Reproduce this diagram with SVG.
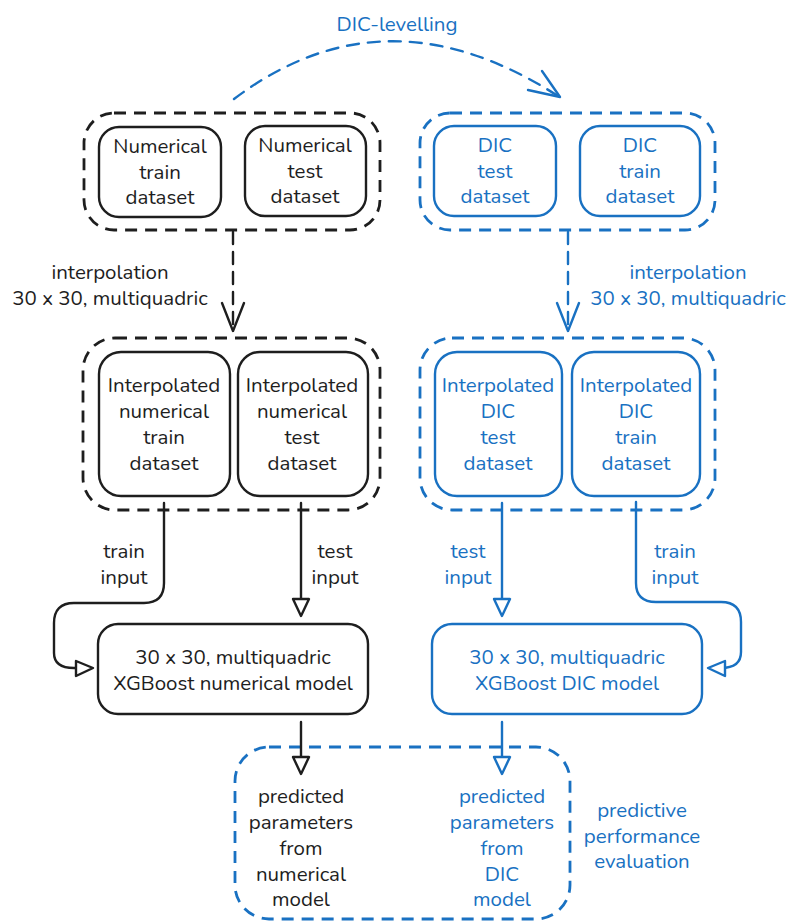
<svg xmlns="http://www.w3.org/2000/svg" width="789" height="923" viewBox="0 0 789 923">
<defs>
<style>
text{font-family:"Nunito","Open Sans","Noto Sans",sans-serif;font-size:20.5px;text-anchor:middle;}
.k{fill:#1e1e1e;}
.b{fill:#1971c2;}
.box{fill:none;stroke-width:2.4;}
.dash{fill:none;stroke-width:2.8;stroke-dasharray:12 8;}
.ks{stroke:#1e1e1e;}
.bs{stroke:#1971c2;}
.ln{fill:none;stroke-width:2.4;stroke-linecap:round;stroke-linejoin:round;}
.tri{fill:#fff;stroke-width:2.4;stroke-linejoin:round;}
</style>
</defs>
<rect width="789" height="923" fill="#fff"/>

<g id="grp-num">
<rect class="dash ks" x="84" y="113" width="296" height="117" rx="30"/>
</g>
<g id="num-train">
<rect class="box ks" x="99" y="127" width="122" height="90" rx="20"/>
<text class="k"><tspan x="160" y="153">Numerical</tspan><tspan x="160" y="179">train</tspan><tspan x="160" y="204">dataset</tspan></text>
</g>
<g id="num-test">
<rect class="box ks" x="245" y="126" width="121" height="90" rx="20"/>
<text class="k"><tspan x="305" y="152">Numerical</tspan><tspan x="305" y="178">test</tspan><tspan x="305" y="203">dataset</tspan></text>
</g>

<g id="grp-dic">
<rect class="dash bs" x="420" y="113" width="295" height="117" rx="30"/>
</g>
<g id="dic-test">
<rect class="box bs" x="434" y="126" width="122" height="90" rx="20"/>
<text class="b"><tspan x="495" y="152">DIC</tspan><tspan x="495" y="178">test</tspan><tspan x="495" y="203">dataset</tspan></text>
</g>
<g id="dic-train">
<rect class="box bs" x="580" y="126" width="120" height="90" rx="20"/>
<text class="b"><tspan x="640" y="152">DIC</tspan><tspan x="640" y="178">train</tspan><tspan x="640" y="203">dataset</tspan></text>
</g>

<g id="grp-inum">
<rect class="dash ks" x="83" y="338" width="297" height="172" rx="32"/>
</g>
<g id="inum-train">
<rect class="box ks" x="99" y="352" width="131" height="144" rx="22"/>
<text class="k"><tspan x="164" y="392">Interpolated</tspan><tspan x="164" y="418">numerical</tspan><tspan x="164" y="444">train</tspan><tspan x="164" y="470">dataset</tspan></text>
</g>
<g id="inum-test">
<rect class="box ks" x="238" y="352" width="130" height="144" rx="22"/>
<text class="k"><tspan x="302" y="392">Interpolated</tspan><tspan x="302" y="418">numerical</tspan><tspan x="302" y="444">test</tspan><tspan x="302" y="470">dataset</tspan></text>
</g>

<g id="grp-idic">
<rect class="dash bs" x="420" y="338" width="295" height="172" rx="32"/>
</g>
<g id="idic-test">
<rect class="box bs" x="435" y="352" width="127" height="144" rx="22"/>
<text class="b"><tspan x="498" y="392">Interpolated</tspan><tspan x="498" y="418">DIC</tspan><tspan x="498" y="444">test</tspan><tspan x="498" y="470">dataset</tspan></text>
</g>
<g id="idic-train">
<rect class="box bs" x="572" y="352" width="128" height="144" rx="22"/>
<text class="b"><tspan x="636" y="392">Interpolated</tspan><tspan x="636" y="418">DIC</tspan><tspan x="636" y="444">train</tspan><tspan x="636" y="470">dataset</tspan></text>
</g>

<g id="model-num">
<rect class="box ks" x="98" y="624" width="270" height="90" rx="20"/>
<text class="k"><tspan x="233" y="664">30 x 30, multiquadric</tspan><tspan x="233" y="690">XGBoost numerical model</tspan></text>
</g>
<g id="model-dic">
<rect class="box bs" x="432" y="624" width="270" height="90" rx="20"/>
<text class="b"><tspan x="567" y="664">30 x 30, multiquadric</tspan><tspan x="567" y="690">XGBoost DIC model</tspan></text>
</g>

<g id="eval">
<rect class="dash bs" x="235" y="747" width="335" height="172" rx="34"/>
<text class="b"><tspan x="642" y="817">predictive</tspan><tspan x="642" y="843">performance</tspan><tspan x="642" y="868">evaluation</tspan></text>
</g>
<g id="pred-num">
<text class="k"><tspan x="301" y="803">predicted</tspan><tspan x="301" y="829">parameters</tspan><tspan x="301" y="855">from</tspan><tspan x="301" y="881">numerical</tspan><tspan x="301" y="906">model</tspan></text>
</g>
<g id="pred-dic">
<text class="b"><tspan x="502" y="803">predicted</tspan><tspan x="502" y="829">parameters</tspan><tspan x="502" y="855">from</tspan><tspan x="502" y="881">DIC</tspan><tspan x="502" y="906">model</tspan></text>
</g>

<g id="connectors">
<path class="ln bs" stroke-dasharray="12 9" stroke-width="2.8" d="M234 99 Q385 -15 558 96"/>
<path class="ln bs" stroke-width="2.8" d="M542 71 L560 97 L528 90"/>
<text class="b" x="397" y="31">DIC-levelling</text>

<path class="ln ks" stroke-dasharray="12 8" stroke-width="2.8" d="M233 232 L233 330"/>
<path class="ln ks" stroke-width="2.8" d="M222 303 L233 331 L244 303"/>
<text class="k"><tspan x="110" y="279">interpolation</tspan><tspan x="110" y="305">30 x 30, multiquadric</tspan></text>

<path class="ln bs" stroke-dasharray="12 8" stroke-width="2.8" d="M568 232 L568 330"/>
<path class="ln bs" stroke-width="2.8" d="M557 303 L568 331 L579 303"/>
<text class="b"><tspan x="688" y="279">interpolation</tspan><tspan x="688" y="305">30 x 30, multiquadric</tspan></text>

<path class="ln ks" d="M164 503 L164 583 Q164 603 144 603 L74 603 Q54 603 54 623 L54 653 Q54 668 74 668 L76 668"/>
<path class="tri ks" d="M76 661 L93 668 L76 676 Z"/>
<text class="k"><tspan x="124" y="558">train</tspan><tspan x="124" y="584">input</tspan></text>

<path class="ln ks" d="M301 503 L301 600"/>
<path class="tri ks" d="M293 599 L301 616 L309 599 Z"/>
<text class="k"><tspan x="335" y="558">test</tspan><tspan x="335" y="584">input</tspan></text>

<path class="ln bs" d="M502 503 L502 600"/>
<path class="tri bs" d="M494 599 L502 616 L510 599 Z"/>
<text class="b"><tspan x="468" y="558">test</tspan><tspan x="468" y="584">input</tspan></text>

<path class="ln bs" d="M636 502 L636 583 Q636 602 656 602 L721 602 Q741 602 741 622 L741 652 Q741 668 721 668 L725 668"/>
<path class="tri bs" d="M725 661 L708 668 L725 676 Z"/>
<text class="b"><tspan x="675" y="558">train</tspan><tspan x="675" y="584">input</tspan></text>

<path class="ln ks" d="M301 722 L301 757"/>
<path class="tri ks" d="M293 757 L301 774 L309 757 Z"/>
<path class="ln bs" d="M502 722 L502 757"/>
<path class="tri bs" d="M494 757 L502 774 L510 757 Z"/>
</g>
</svg>
